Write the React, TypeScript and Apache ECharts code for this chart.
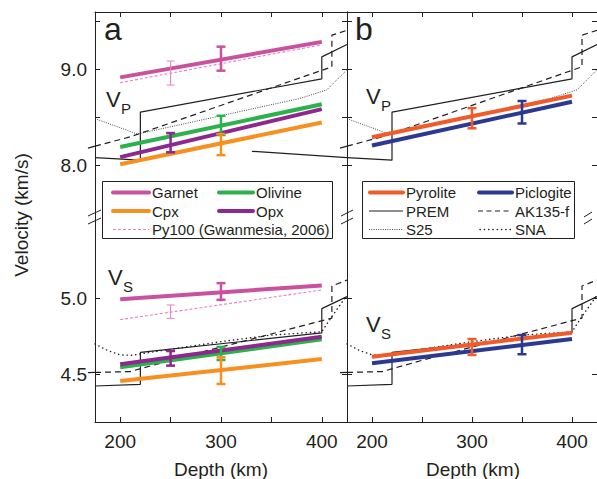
import React, { useEffect, useRef } from "react";
import * as echarts from "echarts";

// ---------- axes ----------
const depthTicks = [200, 250, 300, 350, 400];
const depthLabels = [200, 300, 400];
const vpTicks = [8.0, 8.5, 9.0, 9.5];
const vpLabels = [8.0, 9.0];
const vsTicks = [4.5, 5.0];
const vsLabels = [4.5, 5.0];

// ---------- reference models (depth km, velocity km/s) ----------
const premVp = [[175, 8.085], [220, 8.058], [220, 8.559], [400, 8.905], [400, 9.134], [425, 9.262]];
// panel b's PREM low-velocity-zone line runs on to the left, across panel a: [depth1, v1, depth2, v2]
const premVpBLeft = [[80, 8.15, 175, 8.085]];
const ak135Vp = [[175, 8.204], [210, 8.301], [260, 8.482], [310, 8.665], [360, 8.848], [410, 9.030], [410, 9.360], [425, 9.41]];
const ak135VpLeft = [[168, 8.183, 175, 8.204]];
const s25Vp = [[175, 8.49], [217, 8.33], [378, 8.70], [405, 8.79], [425, 9.0]];
const premVs = [[175, 4.423], [220, 4.434], [220, 4.644], [400, 4.772], [400, 4.932], [425, 5.011]];
const ak135Vs = [[175, 4.512], [210, 4.518], [260, 4.610], [310, 4.696], [360, 4.783], [410, 4.870], [410, 5.081], [425, 5.12]];
const ak135VsLeft = [[168, 4.511, 175, 4.512]];
const snaVs = [[175, 4.70], [188, 4.655], [200, 4.628], [212, 4.625], [225, 4.64], [300, 4.715], [350, 4.758], [400, 4.78], [410, 4.88], [425, 5.02]];

// ---------- minerals (panel a) ----------
const garnetVp = [[200, 8.92], [400, 9.29]];
const py100Vp = [[200, 8.865], [400, 9.26]];
const olivineVp = [[200, 8.195], [400, 8.64]];
const opxVp = [[200, 8.09], [400, 8.59]];
const cpxVp = [[200, 8.015], [400, 8.45]];
const garnetVs = [[200, 4.993], [400, 5.085]];
const py100Vs = [[200, 4.86], [400, 5.055]];
const opxVs = [[200, 4.566], [400, 4.747]];
const olivineVs = [[200, 4.546], [400, 4.73]];
const cpxVs = [[200, 4.456], [400, 4.60]];

// ---------- rocks (panel b) ----------
const pyroliteVp = [[200, 8.296], [300, 8.515], [400, 8.73]];
const piclogiteVp = [[200, 8.21], [400, 8.667]];
const pyroliteVs = [[200, 4.616], [400, 4.774]];
const piclogiteVs = [[200, 4.572], [400, 4.732]];

// ---------- error bars [depth, low, high] ----------
const garnetVpErr = [[300, 8.99, 9.24]];
const py100VpErr = [[250, 8.84, 9.09]];
const olivineVpErr = [[300, 8.32, 8.52]];
const opxVpErr = [[250, 8.14, 8.34]];
const cpxVpErr = [[300, 8.11, 8.33]];
const garnetVsErr = [[300, 4.99, 5.10]];
const py100VsErr = [[250, 4.868, 4.956]];
const opxVsErr = [[250, 4.557, 4.653]];
const olivineVsErr = [[300, 4.594, 4.68]];
const cpxVsErr = [[300, 4.436, 4.612]];
const pyroliteVpErr = [[300, 8.39, 8.60]];
const piclogiteVpErr = [[350, 8.44, 8.674]];
const pyroliteVsErr = [[300, 4.627, 4.732]];
const piclogiteVsErr = [[350, 4.632, 4.758]];

const INK = "#231f20";
const FONT = '"Liberation Sans", Arial, Helvetica, sans-serif';
const C = {
  garnet: "#c9529f",
  py100: "#e77fc2",
  olivine: "#2bb24c",
  cpx: "#f7901e",
  opx: "#8e278e",
  pyrolite: "#f15a29",
  piclogite: "#2b3990",
};

function line(data: number[][], g: number, color: string, width: number, type: any = "solid", z = 3, cap = "butt") {
  return {
    type: "line",
    xAxisIndex: g,
    yAxisIndex: g * 2,
    data,
    showSymbol: false,
    symbol: "none",
    silent: true,
    clip: false,
    z,
    lineStyle: { color, width, type, cap },
  };
}

// unclipped straight segments [x1, y1, x2, y2] placed through the axes
function segSeries(data: number[][], g: number, color: string, width: number, dash: any = null) {
  return {
    type: "custom",
    xAxisIndex: g,
    yAxisIndex: g * 2,
    data,
    silent: true,
    clip: false,
    z: 2,
    encode: { x: [0, 2], y: [1, 3] },
    renderItem: (_p: any, api: any) => {
      const a = api.coord([api.value(0), api.value(1)]);
      const b = api.coord([api.value(2), api.value(3)]);
      return {
        type: "line",
        shape: { x1: a[0], y1: a[1], x2: b[0], y2: b[1] },
        style: { stroke: color, lineWidth: width, lineDash: dash, fill: "none" },
      };
    },
  };
}

function err(data: number[][], g: number, color: string, width: number, cap: number) {
  return {
    type: "custom",
    xAxisIndex: g,
    yAxisIndex: g * 2,
    data,
    silent: true,
    z: 6,
    encode: { x: 0, y: [1, 2] },
    renderItem: (_p: any, api: any) => {
      const x = api.value(0);
      const lo = api.coord([x, api.value(1)]);
      const hi = api.coord([x, api.value(2)]);
      const style = { stroke: color, lineWidth: width, fill: "none" };
      return {
        type: "group",
        children: [
          { type: "line", shape: { x1: lo[0], y1: lo[1], x2: hi[0], y2: hi[1] }, style },
          { type: "line", shape: { x1: lo[0] - cap, y1: lo[1], x2: lo[0] + cap, y2: lo[1] }, style },
          { type: "line", shape: { x1: hi[0] - cap, y1: hi[1], x2: hi[0] + cap, y2: hi[1] }, style },
        ],
      };
    },
  };
}

function txt(text: string, x: number, y: number, size: number, align = "left", extra: any = {}) {
  return {
    type: "text",
    x,
    y,
    z: 20,
    ...extra,
    style: {
      text,
      fill: INK,
      fontSize: size,
      fontFamily: FONT,
      align,
      textAlign: align,
      verticalAlign: "middle",
      textVerticalAlign: "middle",
    },
  };
}

function seg(x1: number, y1: number, x2: number, y2: number, stroke: string, lineWidth: number, lineDash: any = null, lineCap = "butt") {
  return {
    type: "line",
    z: 20,
    shape: { x1, y1, x2, y2 },
    style: { stroke, lineWidth, lineDash, lineCap },
  };
}

export default function App() {
  const ref = useRef<HTMLDivElement>(null);
  useEffect(() => {
    if (!ref.current) return;
    const chart = echarts.init(ref.current, null, { renderer: "svg" });

    const grids = [
      { left: 95, top: 12, width: 252, height: 205 },
      { left: 95, top: 217, width: 252, height: 205 },
      { left: 347, top: 12, width: 253, height: 205 },
      { left: 347, top: 217, width: 253, height: 205 },
    ];
    const isUp = (g: number) => g === 0 || g === 2;

    const xAxis = grids.map((_, g) => ({
      type: "value",
      gridIndex: g,
      min: 175,
      max: 425,
      position: isUp(g) ? "top" : "bottom",
      axisLine: { show: true, onZero: false, lineStyle: { color: INK, width: 1 } },
      axisTick: { show: true, inside: true, length: 5, customValues: depthTicks, lineStyle: { color: INK, width: 1 } },
      axisLabel: {
        show: !isUp(g),
        customValues: depthLabels,
        fontSize: 19,
        color: INK,
        fontFamily: FONT,
        margin: 10,
      },
      splitLine: { show: false },
    }));

    const yAxis: any[] = [];
    grids.forEach((_, g) => {
      const up = isUp(g);
      const base = {
        type: "value",
        gridIndex: g,
        min: up ? 7.466 : 4.186,
        max: up ? 9.601 : 5.535,
        axisLine: { show: true, onZero: false, lineStyle: { color: INK, width: 1 } },
        axisTick: { show: true, inside: true, length: 5, customValues: up ? vpTicks : vsTicks, lineStyle: { color: INK, width: 1 } },
        splitLine: { show: false },
      };
      yAxis.push({
        ...base,
        position: "left",
        axisLabel: {
          show: g < 2,
          customValues: up ? vpLabels : vsLabels,
          formatter: (v: number) => v.toFixed(1),
          fontSize: 19,
          color: INK,
          fontFamily: FONT,
          margin: 8,
        },
      });
      yAxis.push({ ...base, position: "right", axisLabel: { show: false } });
    });

    const S25DASH = [1, 1.3];
    const SNADASH = [0.3, 4];
    const series: any[] = [
      // panel a, Vp
      line(premVp, 0, INK, 1.2, "solid", 2),
      line(ak135Vp, 0, INK, 1.2, [6, 4], 2),
      segSeries(ak135VpLeft, 0, INK, 1.2),
      line(s25Vp, 0, "#333", 0.9, S25DASH, 2),
      line(py100Vp, 0, C.py100, 1.1, [3, 2], 3),
      line(garnetVp, 0, C.garnet, 4, "solid", 4),
      line(cpxVp, 0, C.cpx, 4, "solid", 4),
      line(olivineVp, 0, C.olivine, 4, "solid", 4),
      line(opxVp, 0, C.opx, 4, "solid", 4),
      err(py100VpErr, 0, C.py100, 1, 4),
      err(garnetVpErr, 0, C.garnet, 2.5, 4.5),
      err(olivineVpErr, 0, C.olivine, 2.5, 4.5),
      err(opxVpErr, 0, C.opx, 2.5, 4.5),
      err(cpxVpErr, 0, C.cpx, 2.5, 4.5),
      // panel a, Vs
      line(premVs, 1, INK, 1.2, "solid", 2),
      line(ak135Vs, 1, INK, 1.2, [6, 4], 2),
      segSeries(ak135VsLeft, 1, INK, 1.2),
      line(snaVs, 1, INK, 1.4, SNADASH, 2, "round"),
      line(py100Vs, 1, C.py100, 1.1, [3, 2], 3),
      line(garnetVs, 1, C.garnet, 4, "solid", 4),
      line(cpxVs, 1, C.cpx, 4, "solid", 4),
      line(olivineVs, 1, C.olivine, 4, "solid", 4),
      line(opxVs, 1, C.opx, 4, "solid", 4),
      err(py100VsErr, 1, C.py100, 1, 4),
      err(garnetVsErr, 1, C.garnet, 2.5, 4.5),
      err(olivineVsErr, 1, C.olivine, 2.5, 4.5),
      err(opxVsErr, 1, C.opx, 2.5, 4.5),
      err(cpxVsErr, 1, C.cpx, 2.5, 4.5),
      // panel b, Vp
      line(premVp, 2, INK, 1.2, "solid", 2),
      segSeries(premVpBLeft, 2, INK, 1.2),
      line(ak135Vp, 2, INK, 1.2, [6, 4], 2),
      segSeries(ak135VpLeft, 2, INK, 1.2),
      line(s25Vp, 2, "#333", 0.9, S25DASH, 2),
      line(piclogiteVp, 2, C.piclogite, 4, "solid", 4),
      line(pyroliteVp, 2, C.pyrolite, 4, "solid", 4),
      err(pyroliteVpErr, 2, C.pyrolite, 2.5, 4.5),
      err(piclogiteVpErr, 2, C.piclogite, 2.5, 4.5),
      // panel b, Vs
      line(premVs, 3, INK, 1.2, "solid", 2),
      line(ak135Vs, 3, INK, 1.2, [6, 4], 2),
      segSeries(ak135VsLeft, 3, INK, 1.2),
      line(snaVs, 3, INK, 1.4, SNADASH, 2, "round"),
      line(piclogiteVs, 3, C.piclogite, 4, "solid", 4),
      line(pyroliteVs, 3, C.pyrolite, 4, "solid", 4),
      err(pyroliteVsErr, 3, C.pyrolite, 2.5, 4.5),
      err(piclogiteVsErr, 3, C.piclogite, 2.5, 4.5),
    ];

    const graphic: any[] = [
      // panel letters
      txt("a", 104, 29, 32),
      txt("b", 355, 29, 32),
      // V_P / V_S labels
      txt("V", 106, 99, 22),
      txt("P", 121, 108, 15),
      txt("V", 366, 96, 22),
      txt("P", 381, 105, 15),
      txt("V", 108, 277, 22),
      txt("S", 123, 286, 15),
      txt("V", 366, 324, 22),
      txt("S", 381, 333, 15),
      // axis titles
      txt("Velocity (km/s)", 21, 215, 19, "center", { rotation: Math.PI / 2 }),
      txt("Depth (km)", 221, 469, 19, "center"),
      txt("Depth (km)", 473, 469, 19, "center"),
      // axis breaks
      seg(88, 216, 101, 210, INK, 1),
      seg(88, 224, 101, 218, INK, 1),
      seg(341, 216, 353, 210, INK, 1),
      seg(341, 224, 353, 218, INK, 1),
      seg(584, 217, 592, 212, INK, 1),
      seg(584, 224, 592, 219, INK, 1),
      // legend a
      { type: "rect", z: 19, shape: { x: 102.5, y: 181.5, width: 230, height: 57 }, style: { fill: "#fff", stroke: INK, lineWidth: 1 } },
      seg(113, 192.5, 149, 192.5, C.garnet, 4, null, "round"),
      txt("Garnet", 152, 192.5, 15),
      seg(219, 192.5, 253, 192.5, C.olivine, 4, null, "round"),
      txt("Olivine", 256, 192.5, 15),
      seg(113, 211, 149, 211, C.cpx, 4, null, "round"),
      txt("Cpx", 152, 211, 15),
      seg(219, 211, 253, 211, C.opx, 4, null, "round"),
      txt("Opx", 256, 211, 15),
      seg(113, 229.5, 149, 229.5, C.py100, 1, [3, 2]),
      txt("Py100 (Gwanmesia, 2006)", 152, 229.5, 15),
      // legend b
      { type: "rect", z: 19, shape: { x: 362.5, y: 181.5, width: 212, height: 57 }, style: { fill: "#fff", stroke: INK, lineWidth: 1 } },
      seg(370, 192.5, 403, 192.5, C.pyrolite, 4, null, "round"),
      txt("Pyrolite", 406, 192.5, 15),
      seg(479, 192.5, 512, 192.5, C.piclogite, 4, null, "round"),
      txt("Piclogite", 515, 192.5, 15),
      seg(369, 211, 403, 211, INK, 1.2),
      txt("PREM", 406, 211, 15),
      seg(478, 211, 512, 211, INK, 1.2, [5, 3.5]),
      txt("AK135-f", 515, 211, 15),
      seg(369, 229.5, 403, 229.5, "#333", 0.9, S25DASH),
      txt("S25", 406, 229.5, 15),
      seg(480, 229.5, 512, 229.5, INK, 1.4, SNADASH, "round"),
      txt("SNA", 515, 229.5, 15),
    ];

    chart.setOption({
      animation: false,
      backgroundColor: "#fff",
      textStyle: { fontFamily: FONT },
      grid: grids,
      xAxis,
      yAxis,
      series,
      graphic,
    });
    return () => chart.dispose();
  }, []);

  return <div ref={ref} style={{ position: "absolute", left: 0, top: 0, width: 597, height: 479 }} />;
}
